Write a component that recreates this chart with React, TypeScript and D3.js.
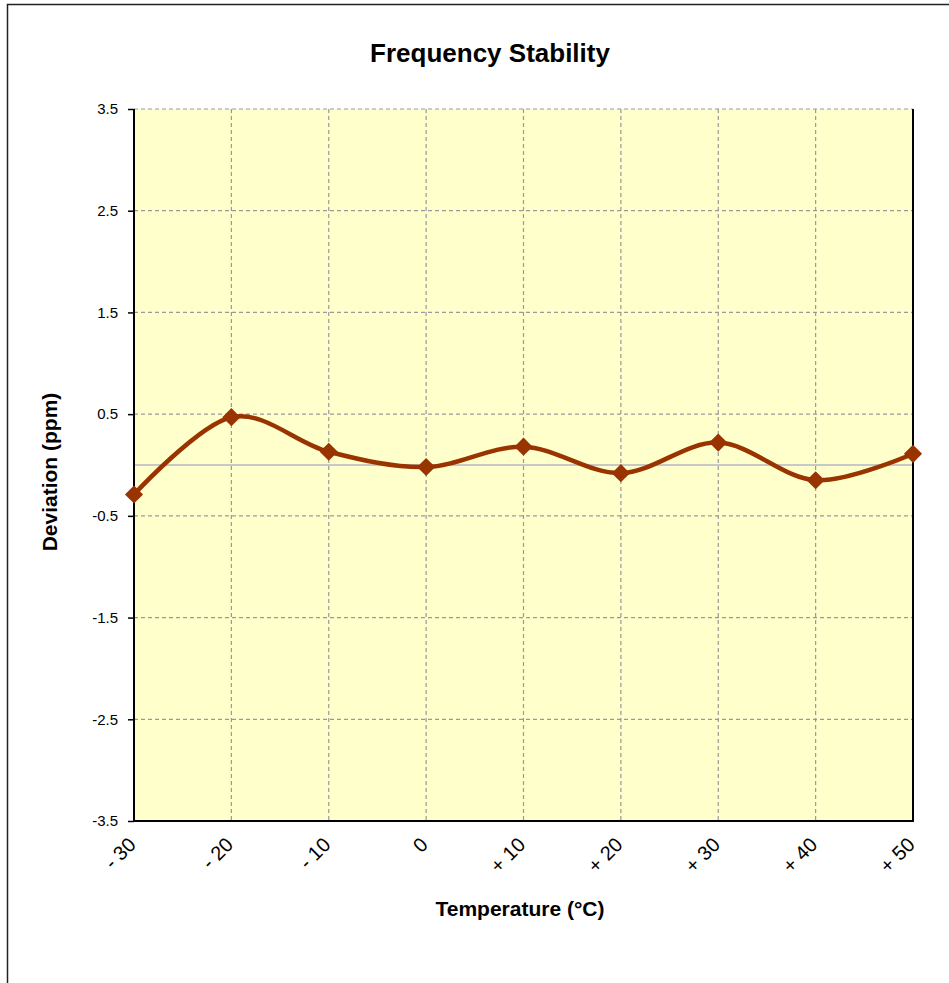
import React, { useEffect, useRef } from 'react'
import * as d3 from 'd3'

const temperatures = ['- 30', '- 20', '- 10', '0', '+ 10', '+ 20', '+ 30', '+ 40', '+ 50']
const deviation = [-0.29, 0.47, 0.13, -0.02, 0.18, -0.08, 0.22, -0.15, 0.11]
const yTicks = [-3.5, -2.5, -1.5, -0.5, 0.5, 1.5, 2.5, 3.5]

const font = '"Liberation Sans", Arial, sans-serif'

export default function App() {
  const ref = useRef<SVGSVGElement>(null)

  useEffect(() => {
    const svg = d3.select(ref.current)
    svg.selectAll('*').remove()

    const width = 949
    const height = 983
    const margin = { top: 109, right: 36, bottom: 162, left: 134 }
    const innerW = width - margin.left - margin.right
    const innerH = height - margin.top - margin.bottom

    // outer chart frame
    svg.append('rect')
      .attr('x', 7.5).attr('y', 4.5)
      .attr('width', 1000).attr('height', 1000)
      .attr('fill', 'white').attr('stroke', '#222').attr('stroke-width', 1.5)

    svg.append('text')
      .attr('x', 490).attr('y', 62)
      .attr('text-anchor', 'middle')
      .style('font-family', font).style('font-weight', 'bold').style('font-size', '26px')
      .text('Frequency Stability')

    const g = svg.append('g').attr('transform', `translate(${margin.left},${margin.top})`)

    const x = d3.scalePoint<string>().domain(temperatures).range([0, innerW])
    const y = d3.scaleLinear().domain([-3.5, 3.5]).range([innerH, 0])

    g.append('rect')
      .attr('width', innerW).attr('height', innerH)
      .attr('fill', '#FFFFCC')

    // horizontal grid
    g.append('g')
      .selectAll('line')
      .data(yTicks)
      .enter()
      .append('line')
      .attr('x1', 0).attr('x2', innerW)
      .attr('y1', d => y(d)).attr('y2', d => y(d))
      .attr('stroke', '#999').attr('stroke-width', 1.2).attr('stroke-dasharray', '4,3')

    // vertical grid
    g.append('g')
      .selectAll('line')
      .data(temperatures)
      .enter()
      .append('line')
      .attr('x1', d => x(d)!).attr('x2', d => x(d)!)
      .attr('y1', 0).attr('y2', innerH)
      .attr('stroke', '#999').attr('stroke-width', 1.2).attr('stroke-dasharray', '4,3')

    // zero line
    g.append('line')
      .attr('x1', 0).attr('x2', innerW)
      .attr('y1', y(0)).attr('y2', y(0))
      .attr('stroke', '#C8C8C8').attr('stroke-width', 2)

    // frame: left, bottom, right
    g.append('path')
      .attr('d', `M0,0V${innerH}H${innerW}V0`)
      .attr('fill', 'none').attr('stroke', '#000').attr('stroke-width', 2)

    const yAxis = g.append('g')
      .call(d3.axisLeft(y).tickValues(yTicks).tickSize(6).tickPadding(10)
        .tickFormat(d => d3.format('.1f')(d as number).replace('−', '-')))
    yAxis.select('.domain').remove()
    yAxis.selectAll('line').attr('stroke', '#000').attr('stroke-width', 1.5)
    yAxis.selectAll('text')
      .style('font-family', font).style('font-size', '15px').attr('fill', '#000')

    g.append('g')
      .selectAll('text')
      .data(temperatures)
      .enter()
      .append('text')
      .attr('transform', d => `translate(${x(d)! + 3},${innerH + 25}) rotate(-45)`)
      .attr('text-anchor', 'end')
      .style('font-family', font).style('font-size', '20px')
      .text(d => d)

    const line = d3.line<number>()
      .x((d, i) => x(temperatures[i])!)
      .y(d => y(d))
      .curve(d3.curveCardinal.tension(0))

    g.append('path')
      .datum(deviation)
      .attr('d', line)
      .attr('fill', 'none')
      .attr('stroke', '#993300')
      .attr('stroke-width', 4.5)

    const diamond = d3.symbol().type(d3.symbolDiamond2).size(210)
    g.selectAll('.marker')
      .data(deviation)
      .enter()
      .append('path')
      .attr('class', 'marker')
      .attr('d', diamond)
      .attr('transform', (d, i) => `translate(${x(temperatures[i])},${y(d)})`)
      .attr('fill', '#993300')

    svg.append('text')
      .attr('x', 520).attr('y', 916)
      .attr('text-anchor', 'middle')
      .style('font-family', font).style('font-weight', 'bold').style('font-size', '21px')
      .text('Temperature (°C)')

    svg.append('text')
      .attr('transform', `translate(57,${margin.top + y(0) + 7}) rotate(-90)`)
      .attr('text-anchor', 'middle')
      .style('font-family', font).style('font-weight', 'bold').style('font-size', '21px')
      .text('Deviation (ppm)')
  }, [])

  return (
    <svg ref={ref} width={949} height={983} style={{ position: 'absolute', left: 0, top: 0 }} />
  )
}
